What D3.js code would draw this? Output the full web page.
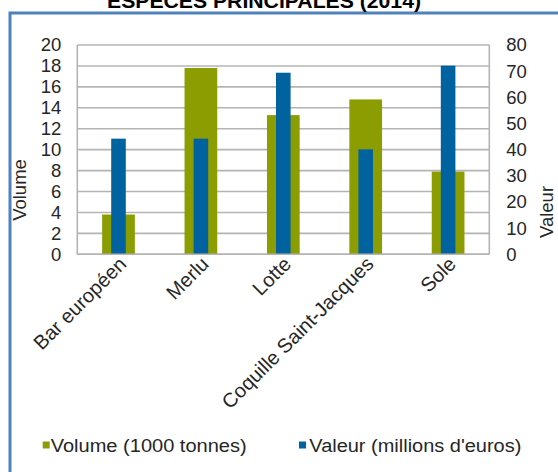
<!DOCTYPE html>
<html><head><meta charset="utf-8">
<script src="https://cdn.jsdelivr.net/npm/d3@7"></script>
<style>
html,body{margin:0;padding:0;background:#fff;}
text{font-family:"Liberation Sans",Arial,sans-serif;}
</style></head>
<body>
<svg id="c" width="558" height="472"></svg>
<script>
const categories = ["Bar européen","Merlu","Lotte","Coquille Saint-Jacques","Sole"];
const volume = [3.8, 17.8, 13.3, 14.8, 7.9];
const valeur = [44.2, 44.2, 69.4, 40.1, 72.1];
const leftTicks = [0,2,4,6,8,10,12,14,16,18,20];
const rightTicks = [0,10,20,30,40,50,60,70,80];
const seriesNames = ["Volume (1000 tonnes)","Valeur (millions d'euros)"];
const title = "ESPECES PRINCIPALES (2014)";

const GREEN = "#8B9D00", BLUE = "#00629F", GRID = "#B4B4B4", TXT = "#262626";
const svg = d3.select("#c");
svg.append("rect").attr("width",558).attr("height",472).attr("fill","#fff");

// outer border (partial frame)
svg.append("path").attr("d","M10,472 L10,13 L558,13").attr("fill","none")
  .attr("stroke","#4F81BD").attr("stroke-width",3);

// title
svg.append("text").attr("x",264).attr("y",8).attr("text-anchor","middle")
  .attr("font-weight","bold").attr("font-size",20).attr("fill","#000")
  .attr("textLength",314).attr("lengthAdjust","spacingAndGlyphs").text(title);

const X0=77.3, X1=489.3, Y0=45, Y1=254.3;
const x = d3.scaleBand().domain(categories).range([X0,X1]);
const yL = d3.scaleLinear().domain([0,20]).range([Y1,Y0]);
const yR = d3.scaleLinear().domain([0,80]).range([Y1,Y0]);

// gridlines
const g = svg.append("g");
g.selectAll("line.grid").data(leftTicks).join("line")
  .attr("x1",X0).attr("x2",X1).attr("y1",d=>yL(d)).attr("y2",d=>yL(d))
  .attr("stroke",GRID).attr("stroke-width",1.6);
g.append("line").attr("x1",X0).attr("x2",X0).attr("y1",Y0).attr("y2",Y1).attr("stroke",GRID).attr("stroke-width",1.6);
g.append("line").attr("x1",X1).attr("x2",X1).attr("y1",Y0).attr("y2",Y1).attr("stroke",GRID).attr("stroke-width",1.6);

// bars
const bw = x.bandwidth();
const gW = bw*0.397, bW = bw*0.177;
svg.append("g").selectAll("rect").data(categories).join("rect")
  .attr("x",d=>x(d)+bw/2-gW/2).attr("width",gW)
  .attr("y",(d,i)=>yL(volume[i])).attr("height",(d,i)=>Y1-yL(volume[i]))
  .attr("fill",GREEN);
svg.append("g").selectAll("rect").data(categories).join("rect")
  .attr("x",d=>x(d)+bw/2-bW/2).attr("width",bW)
  .attr("y",(d,i)=>yR(valeur[i])).attr("height",(d,i)=>Y1-yR(valeur[i]))
  .attr("fill",BLUE);
svg.append("line").attr("x1",X0).attr("x2",X1).attr("y1",Y1).attr("y2",Y1).attr("stroke",GRID).attr("stroke-width",1.6);

// axes (text only)
const axL = svg.append("g").attr("transform",`translate(${X0},0)`)
  .call(d3.axisLeft(yL).tickValues(leftTicks).tickSize(0).tickPadding(16));
const axR = svg.append("g").attr("transform",`translate(${X1},0)`)
  .call(d3.axisRight(yR).tickValues(rightTicks).tickSize(0).tickPadding(17));
[axL,axR].forEach(a=>{
  a.select(".domain").remove();
  a.selectAll("text").attr("font-size",18.5).attr("fill",TXT).attr("font-family","Liberation Sans, Arial, sans-serif");
});

const axB = svg.append("g").attr("transform",`translate(0,${Y1})`)
  .call(d3.axisBottom(x).tickSize(0));
axB.select(".domain").remove();
axB.selectAll("text")
  .attr("font-size",20).attr("fill",TXT).attr("font-family","Liberation Sans, Arial, sans-serif")
  .attr("text-anchor","end").attr("dy",0).attr("y",0)
  .attr("transform","translate(9,11) rotate(-45)");

// axis titles
svg.append("text").attr("transform","translate(26,190) rotate(-90)").attr("text-anchor","middle")
  .attr("font-size",18.5).attr("fill",TXT).text("Volume");
svg.append("text").attr("transform","translate(553,212) rotate(-90)").attr("text-anchor","middle")
  .attr("font-size",18.5).attr("fill",TXT).text("Valeur");

// legend
const lg = svg.append("g");
const legX = [42.7, 299], txtX = [50.7, 309.3], txtL = [196, 212];
const cols = [GREEN, BLUE];
seriesNames.forEach((n,i)=>{
  lg.append("rect").attr("x",legX[i]).attr("y",441.5).attr("width",7).attr("height",7).attr("fill",cols[i]);
  lg.append("text").attr("x",txtX[i]).attr("y",451.5).attr("font-size",18).attr("fill",TXT)
    .attr("textLength",txtL[i]).attr("lengthAdjust","spacingAndGlyphs").text(n);
});
</script>
</body></html>
